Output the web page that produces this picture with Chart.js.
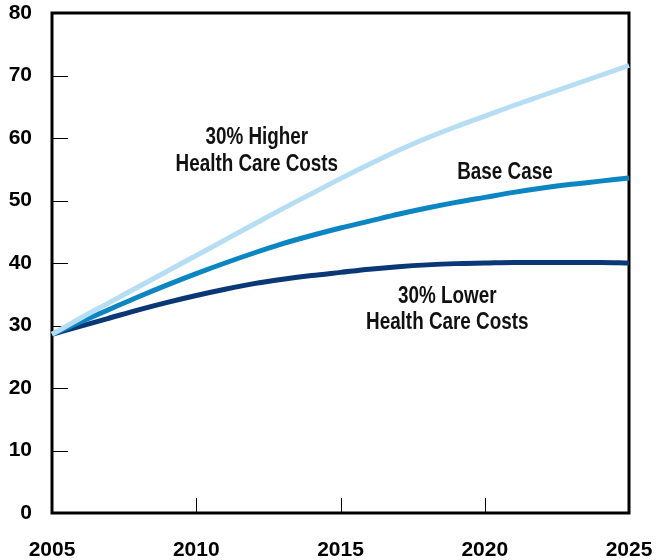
<!DOCTYPE html>
<html>
<head>
<meta charset="utf-8">
<script src="https://cdn.jsdelivr.net/npm/chart.js@4.4.1/dist/chart.umd.min.js"></script>
<style>
  html, body { margin: 0; padding: 0; background: #ffffff; }
  #wrap { width: 657px; height: 560px; position: relative; }
</style>
</head>
<body>
<div id="wrap"><canvas id="c" width="657" height="560"></canvas></div>
<script>
const years = [2005,2006,2007,2008,2009,2010,2011,2012,2013,2014,2015,2016,2017,2018,2019,2020,2021,2022,2023,2024,2025];
const higherCosts = [28.6,31.2,33.7,36.2,38.7,41.2,43.7,46.2,48.7,51.1,53.5,55.8,58.0,60.0,61.8,63.5,65.2,66.8,68.4,70.0,71.6];
const baseCase    = [28.6,30.6,32.6,34.6,36.5,38.3,40.0,41.6,43.1,44.4,45.6,46.7,47.8,48.8,49.7,50.5,51.3,52.0,52.6,53.1,53.6];
const lowerCosts  = [28.6,29.9,31.2,32.5,33.7,34.8,35.8,36.7,37.4,38.0,38.5,39.0,39.4,39.7,39.9,40.0,40.1,40.1,40.1,40.1,40.0];
const xTicks = [2005,2010,2015,2020,2025];
const yTicks = [0,10,20,30,40,50,60,70,80];
const annotations = [
  { text: "30% Higher", x: 2012.1, y: 60.0 },
  { text: "Health Care Costs", x: 2012.1, y: 55.7 },
  { text: "Base Case", x: 2020.7, y: 54.4 },
  { text: "30% Lower", x: 2018.7, y: 34.6 },
  { text: "Health Care Costs", x: 2018.7, y: 30.4 }
];

const toPts = arr => years.map((yr, i) => ({ x: yr, y: arr[i] }));

const framePlugin = {
  id: 'frame',
  beforeDatasetsDraw(chart) {
    const { ctx, chartArea: a, scales } = chart;
    ctx.save();
    ctx.strokeStyle = '#000';
    ctx.lineWidth = 1;
    ctx.beginPath();
    yTicks.forEach(v => {
      if (v === 0 || v === 80) return;
      const py = Math.round(scales.y.getPixelForValue(v)) + 0.5;
      ctx.moveTo(a.left, py); ctx.lineTo(a.left + 16, py);
    });
    xTicks.forEach(v => {
      if (v === 2005 || v === 2025) return;
      const px = Math.round(scales.x.getPixelForValue(v)) + 0.5;
      ctx.moveTo(px, a.bottom); ctx.lineTo(px, a.bottom - 15);
    });
    ctx.stroke();
    ctx.lineWidth = 3;
    ctx.strokeRect(a.left, a.top, a.right - a.left, a.bottom - a.top);
    ctx.restore();
  },
  afterDatasetsDraw(chart) {
    const { ctx, scales } = chart;
    ctx.save();
    ctx.fillStyle = '#111';
    ctx.font = 'bold 23px "Liberation Sans", Arial, sans-serif';
    ctx.textAlign = 'center';
    ctx.textBaseline = 'middle';
    annotations.forEach(an => {
      const px = scales.x.getPixelForValue(an.x), py = scales.y.getPixelForValue(an.y);
      ctx.save();
      ctx.translate(px, py);
      ctx.scale(0.82, 1);
      ctx.fillText(an.text, 0, 0);
      ctx.restore();
    });
    ctx.restore();
  }
};

const lineDs = (label, arr, color) => ({
  label, data: toPts(arr), borderColor: color, backgroundColor: color,
  borderWidth: 5, pointRadius: 0, cubicInterpolationMode: 'monotone',
  fill: false, borderCapStyle: 'butt', clip: false
});

const zeroPad = s => { s.paddingLeft = 0; s.paddingRight = 0; s.paddingTop = 0; s.paddingBottom = 0; };

new Chart(document.getElementById('c'), {
  type: 'line',
  data: {
    datasets: [
      lineDs('30% Higher Health Care Costs', higherCosts, '#b5ddf3'),
      lineDs('Base Case', baseCase, '#0c86c3'),
      lineDs('30% Lower Health Care Costs', lowerCosts, '#0a3776')
    ]
  },
  options: {
    responsive: false,
    animation: false,
    layout: { padding: { top: 13, right: 28, left: 0, bottom: 0 } },
    plugins: { legend: { display: false }, tooltip: { enabled: false } },
    scales: {
      x: {
        type: 'linear', min: 2005, max: 2025,
        afterFit(s) { s.height = 47; zeroPad(s); },
        afterBuildTicks(s) { s.ticks = xTicks.map(v => ({ value: v })); },
        grid: { display: false, drawTicks: false },
        border: { display: false },
        ticks: {
          autoSkip: false, maxRotation: 0, padding: 25, color: '#000',
          font: { family: '"Liberation Sans", Arial, sans-serif', size: 21, weight: 'bold' },
          callback: v => String(v)
        }
      },
      y: {
        min: 0, max: 80,
        afterFit(s) { s.width = 52; zeroPad(s); },
        afterBuildTicks(s) { s.ticks = yTicks.map(v => ({ value: v })); },
        grid: { display: false, drawTicks: false },
        border: { display: false },
        ticks: {
          autoSkip: false, padding: 20, color: '#000',
          font: { family: '"Liberation Sans", Arial, sans-serif', size: 21, weight: 'bold' },
          callback: v => String(v)
        }
      }
    }
  },
  plugins: [framePlugin]
});
</script>
</body>
</html>
